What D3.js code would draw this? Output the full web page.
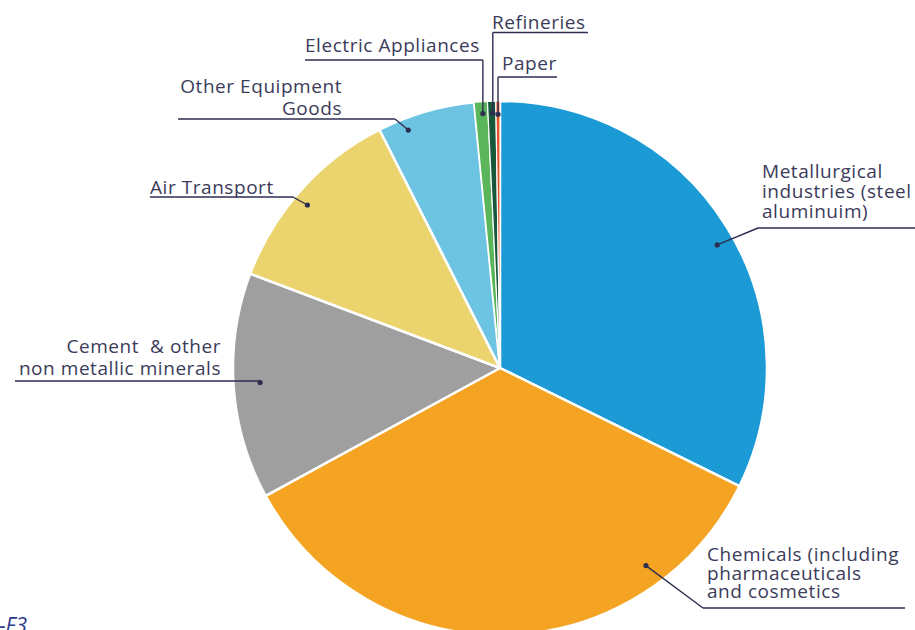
<!DOCTYPE html>
<html>
<head>
<meta charset="utf-8">
<script src="https://cdn.jsdelivr.net/npm/d3@7"></script>
<style>
  body { margin: 0; background: #fff; }
  svg { display: block; font-family: "Open Sans", sans-serif; }
  text { white-space: pre; }
</style>
</head>
<body>
<div id="chart"></div>
<script>
// slice data, clockwise from 12 o'clock (share in %)
const sectors = ["Metallurgical", "Chemicals", "Cement", "Air Transport", "Other Equipment", "Electric Appliances", "Refineries", "Paper"];
const shares = [32.3, 34.75, 13.7, 11.8, 5.9, 0.8, 0.5, 0.25];
const colors = ["#1b9ad6", "#f4a422", "#9f9f9f", "#ebd46e", "#6dc4e2", "#5bb55a", "#17573a", "#e5532b"];
const labels = [
  ["Metallurgical", "industries (steel", "aluminuim)"],
  ["Chemicals (including", "pharmaceuticals", "and cosmetics"],
  ["Cement  & other", "non metallic minerals"],
  ["Air Transport"],
  ["Other Equipment", "Goods"],
  ["Electric Appliances"],
  ["Refineries"],
  ["Paper"]
];

const W = 915, H = 630;
const cx = 500, cy = 368, R = 267;

// label layout: text anchor point, underline, where the leader leaves it, and where the dot sits in the slice
const layout = [
  { x: 762, y: 178, lh: 20, anchor: "start", ul: [758, 915, 228], from: "x1", t: 0.52, rf: 0.935 },
  { x: 707, y: 561, lh: 18.5, anchor: "start", ul: [703, 905, 608], from: "x1", t: 0.218, rf: 0.92 },
  { x: 221, y: 353, lh: 22, anchor: "end", ul: [15, 260, 381], from: "x2", t: 0.51, rf: 0.9 },
  { x: 150, y: 194, lh: 20, anchor: "start", ul: [150, 293, 197], from: "x2", t: 0.46, rf: 0.945 },
  { x: 342, y: 93, lh: 22, anchor: "end", ul: [178, 395, 119], from: "x2", t: 0.27, rf: 0.955 },
  { x: 305, y: 52, lh: 20, anchor: "start", ul: [305, 482, 60], from: "vert", t: 0.6, rf: 0.955 },
  { x: 492, y: 29, lh: 20, anchor: "start", ul: [493, 588, 32.5], from: "vert", t: 0.6, rf: 0.955 },
  { x: 502, y: 70, lh: 20, anchor: "start", ul: [500, 557, 77], from: "vert", t: 0.5, rf: 0.95 }
];

const ink = "#2d2d50";
const textColor = "#3b3b5a";

const svg = d3.select("#chart").append("svg")
  .attr("width", W)
  .attr("height", H);

const pie = d3.pie().sort(null).value(d => d);
const arcs = pie(shares);
const arc = d3.arc().innerRadius(0).outerRadius(R);

const g = svg.append("g").attr("transform", `translate(${cx},${cy})`);

// thin slivers get a finer white edge so they don't vanish
g.selectAll("path")
  .data(arcs)
  .join("path")
  .attr("d", arc)
  .attr("fill", (d, i) => colors[i])
  .attr("stroke", "#fff")
  .attr("stroke-width", d => d.value < 2 ? 1.2 : 2.5)
  .attr("stroke-linejoin", "round");

// labels + leaders
arcs.forEach((a, i) => {
  const L = layout[i];
  const ang = a.startAngle + L.t * (a.endAngle - a.startAngle);
  const r = R * L.rf;
  const dx = cx + r * Math.sin(ang);
  const dy = cy - r * Math.cos(ang);

  let [x1, x2, uy] = L.ul;
  let ex;
  if (L.from === "vert") {
    ex = dx;
    if (Math.abs(x1 - dx) < Math.abs(x2 - dx)) x1 = dx; else x2 = dx;
  } else {
    ex = L.from === "x1" ? x1 : x2;
  }

  svg.append("line")
    .attr("x1", x1).attr("x2", x2)
    .attr("y1", uy).attr("y2", uy)
    .attr("stroke", ink)
    .attr("stroke-width", 1.4);

  svg.append("line")
    .attr("x1", ex).attr("y1", uy)
    .attr("x2", dx).attr("y2", dy)
    .attr("stroke", ink)
    .attr("stroke-width", 1.4);

  svg.append("circle")
    .attr("cx", dx).attr("cy", dy)
    .attr("r", 2.6)
    .attr("fill", ink);

  const t = svg.append("text")
    .attr("x", L.x)
    .attr("y", L.y)
    .attr("text-anchor", L.anchor)
    .attr("fill", textColor)
    .attr("font-size", 19)
    .attr("letter-spacing", 0.55);
  labels[i].forEach((line, k) => {
    t.append("tspan")
      .attr("x", L.x)
      .attr("y", L.y + k * L.lh)
      .text(line);
  });
});

// cropped figure reference in the corner
svg.append("text")
  .attr("x", -1)
  .attr("y", 633)
  .attr("fill", "#2a3a8c")
  .attr("font-size", 21)
  .attr("font-style", "italic")
  .text("-F3");
</script>
</body>
</html>
